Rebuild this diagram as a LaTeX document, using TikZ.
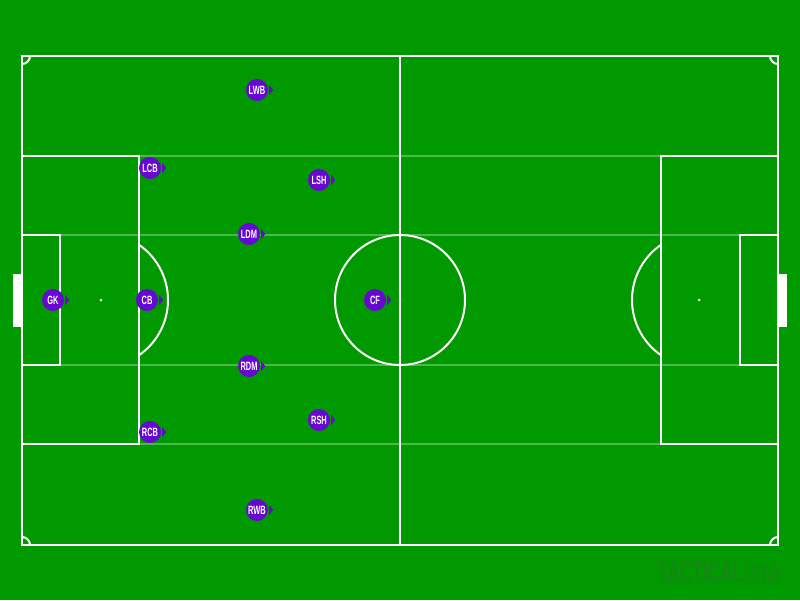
\documentclass[tikz,border=0pt]{standalone}
\usepackage{fontspec}
\newfontfamily\playerfont{Liberation Sans}[UprightFont={* Bold},FakeStretch=0.62]
\newfontfamily\brandfont{Liberation Sans}[UprightFont={* Bold},FakeStretch=0.58]
\newfontfamily\brandtail{Liberation Sans}[UprightFont={* Italic},FakeStretch=0.8]
\definecolor{pitch}{RGB}{0,153,0}
\definecolor{shirt}{RGB}{102,8,208}
\definecolor{brand}{RGB}{22,134,22}

\begin{document}
\begin{tikzpicture}
		[x=1pt,y=-1pt,
		line/.style={white,line width=2pt},
		faint/.style={white,opacity=0.3,line width=1.5pt},
		player/.style={circle,fill=shirt,text=white,inner sep=0pt,minimum size=22pt,
			font=\playerfont\fontsize{12}{12}\selectfont,
			append after command={\pgfextra{\fill[shirt] ([xshift=1pt]\tikzlastnode.east) -- ++(0,5) -- ++(4,-5) -- ++(-4,-5) -- cycle;}}}]
		\fill[pitch] (0,0) rectangle (800,600);
		
		\draw[faint] (22,156) -- (778,156);
		\draw[faint] (22,235) -- (778,235);
		\draw[faint] (22,365) -- (778,365);
		\draw[faint] (22,444) -- (778,444);
		
		\draw[line] (22,56) rectangle (778,545);
		\draw[line] (400,56) -- (400,545);
		\draw[line] (400,300) circle[radius=65];
		\fill[white] (400,300) circle[radius=1.5];
		
		\draw[line] (22,156) rectangle (139,444);
		\draw[line] (22,235) rectangle (60,365);
		\fill[white] (101,300) circle[radius=1.5];
		\draw[line] (101,300) ++(-55.4:67) arc[start angle=-55.4,end angle=55.4,radius=67];
		\fill[white] (13,274) rectangle (22,327);
		
		\draw[line] (661,156) rectangle (778,444);
		\draw[line] (740,235) rectangle (778,365);
		\fill[white] (699,300) circle[radius=1.5];
		\draw[line] (699,300) ++(124.6:67) arc[start angle=124.6,end angle=235.4,radius=67];
		\fill[white] (778,274) rectangle (787,327);
		
		\draw[line] (30,56) arc[start angle=0,end angle=90,radius=8];
		\draw[line] (778,64) arc[start angle=90,end angle=180,radius=8];
		\draw[line] (22,537) arc[start angle=-90,end angle=0,radius=8];
		\draw[line] (770,545) arc[start angle=180,end angle=270,radius=8];
		
		\node[player] (gk) at (53,300) {GK};
		\node[player] (cb) at (147,300) {CB};
		\node[player] (lcb) at (150,168) {LCB};
		\node[player] (rcb) at (150,432) {RCB};
		\node[player] (lwb) at (257,90) {LWB};
		\node[player] (rwb) at (257,510) {RWB};
		\node[player] (ldm) at (249,234) {LDM};
		\node[player] (rdm) at (249,366) {RDM};
		\node[player] (lsh) at (319,180) {LSH};
		\node[player] (rsh) at (319,420) {RSH};
		\node[player] (cf) at (375,300) {CF};
		
		\node[anchor=south east,inner sep=0pt,text=brand] (logo) at (781,583)
			{\fontsize{30}{30}\selectfont\brandfont TACTICAL\brandtail ista};
		
		\end{tikzpicture}
\end{document}
